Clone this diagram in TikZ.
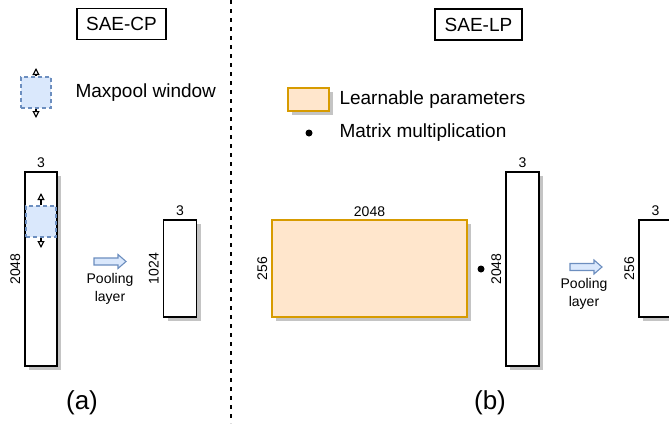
\documentclass[tikz,border=0pt]{standalone}
\usepackage{fontspec}
\setmainfont{Liberation Sans}
\usetikzlibrary{shadows,arrows.meta,calc}
\definecolor{winfill}{HTML}{DAE8FC}
\definecolor{winline}{HTML}{6C8EBF}
\definecolor{orfill}{HTML}{FFE6CC}
\definecolor{orline}{HTML}{D79B00}
\definecolor{shadowgray}{HTML}{C4C4C4}
\tikzset{
  big/.style={font=\fontsize{19}{22}\selectfont},
  small/.style={font=\fontsize{14}{16}\selectfont, inner sep=0pt},
  huge/.style={font=\fontsize{26}{30}\selectfont},
  titlebox/.style={draw, line width=1.2pt, big, inner sep=0pt, minimum height=31pt},
  shad/.style={drop shadow={shadow xshift=4pt, shadow yshift=-4pt, fill=shadowgray, opacity=1}},
  col/.style={draw, line width=1.2pt, fill=white, shad, inner sep=0pt},
  param/.style={draw=orline, fill=orfill, line width=1.2pt, shad, inner sep=0pt},
  window/.style={draw=winline, fill=winfill, dashed, dash pattern=on 4pt off 3pt, line width=1.1pt, inner sep=0pt},
  winarrow/.style={-{Triangle[open, length=7pt, width=7pt]}, line width=1.1pt},
  pool/.style={draw=winline, fill=winfill, line width=1.1pt},
  divider/.style={dashed, dash pattern=on 4pt off 5pt, line width=1.3pt},
  mult/.style={circle, fill=black, inner sep=0pt, minimum size=7pt},
}
\begin{document}
\begin{tikzpicture}[x=1pt, y=-1pt]
\useasboundingbox (0,0) rectangle (669,423);

% divider
\coordinate (dtop) at (231,0);
\coordinate (dbot) at (231,423);
\draw[divider] (dtop) -- (dbot);

% ---------------- (a) SAE-CP ----------------
\node[titlebox, minimum width=89pt] (tcp) at (121.5,24) {SAE-CP};

% legend: maxpool window
\node[window, minimum width=30pt, minimum height=31pt] (lw) at (36,92.5) {};
\coordinate (lwu) at (36,68);
\coordinate (lwd) at (36,118);
\draw[winarrow] (lw.north) -- (lwu);
\draw[winarrow] (lw.south) -- (lwd);
\node[big, anchor=west] (lwt) at (72,93) {Maxpool window};

% big column
\node[col, minimum width=32pt, minimum height=194pt] (c1) at (41,269) {};
\node[small, anchor=south] (c1w) at ([yshift=4pt]c1.north) {3};
\node[small, rotate=90, anchor=south] (c1h) at ([xshift=-4pt]c1.west) {2048};
% window inside
\node[window, minimum width=30pt, minimum height=31pt] (w1) at (41,221.5) {};
\coordinate (w1u) at (41,193);
\coordinate (w1d) at (41,248);
\draw[winarrow] (w1.north) -- (w1u);
\draw[winarrow] (w1.south) -- (w1d);

% pooling arrow (a)
\coordinate (pa) at (110,261.5);
\draw[pool] ($(pa)+(-16,-3.5)$) -- ($(pa)+(8,-3.5)$) -- ($(pa)+(8,-7)$) -- ($(pa)+(16,0)$)
  -- ($(pa)+(8,7)$) -- ($(pa)+(8,3.5)$) -- ($(pa)+(-16,3.5)$) -- cycle;
\node[small, align=center] (pla) at (110,289) {Pooling\\[2pt]layer};

% small column
\node[col, minimum width=33pt, minimum height=97pt] (c2) at (180,268.5) {};
\node[small, anchor=south] (c2w) at ([yshift=4pt]c2.north) {3};
\node[small, rotate=90, anchor=south] (c2h) at ([xshift=-4pt]c2.west) {1024};

\node[huge] (la) at (82,403) {(a)};

% ---------------- (b) SAE-LP ----------------
\node[titlebox, minimum width=87pt] (tlp) at (478.5,24.5) {SAE-LP};

% legend
\node[param, minimum width=41pt, minimum height=23pt] (lp) at (308.5,99.5) {};
\node[big, anchor=west] (lpt) at (336,100) {Learnable parameters};
\node[mult] (ld) at (309,133) {};
\node[big, anchor=west] (ldt) at (336,133) {Matrix multiplication};

% parameter matrix
\node[param, minimum width=195pt, minimum height=97pt] (pm) at (369.5,268.5) {};
\node[small, anchor=south] (pmw) at ([yshift=3pt]pm.north) {2048};
\node[small, rotate=90, anchor=south] (pmh) at ([xshift=-4pt]pm.west) {256};

\node[mult] (dot) at (481,269) {};

% big column (b)
\node[col, minimum width=33pt, minimum height=194pt] (c3) at (522.5,269) {};
\node[small, anchor=south] (c3w) at ([yshift=4pt]c3.north) {3};
\node[small, rotate=90, anchor=south] (c3h) at ([xshift=-4pt]c3.west) {2048};

% pooling arrow (b)
\coordinate (pb) at (586,267);
\draw[pool] ($(pb)+(-16,-3.5)$) -- ($(pb)+(8,-3.5)$) -- ($(pb)+(8,-7)$) -- ($(pb)+(16,0)$)
  -- ($(pb)+(8,7)$) -- ($(pb)+(8,3.5)$) -- ($(pb)+(-16,3.5)$) -- cycle;
\node[small, align=center] (plb) at (584,294) {Pooling\\[2pt]layer};

% small column (b), clipped at right edge
\node[col, minimum width=33pt, minimum height=97pt] (c4) at (655.5,268.5) {};
\node[small, anchor=south] (c4w) at ([yshift=4pt]c4.north) {3};
\node[small, rotate=90, anchor=south] (c4h) at ([xshift=-4pt]c4.west) {256};

\node[huge] (lb) at (490,403) {(b)};
\end{tikzpicture}
\end{document}
